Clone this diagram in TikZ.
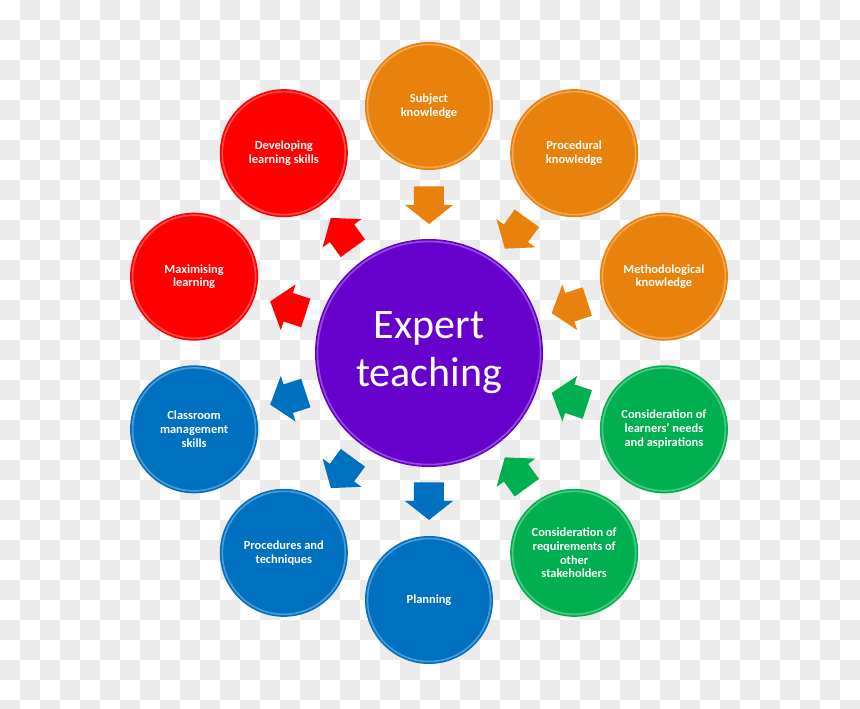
\documentclass[tikz,border=0pt]{standalone}
\usepackage{fontspec}
\setmainfont{Carlito}
\definecolor{cor}{HTML}{E8820C}
\definecolor{cgr}{HTML}{00B050}
\definecolor{cbl}{HTML}{0070C0}
\definecolor{cre}{HTML}{FF0000}
\definecolor{cpu}{HTML}{6600CC}
\definecolor{chk}{HTML}{EBEBEB}
\tikzset{
  outer/.style={circle, minimum size=128pt, inner sep=0pt, text=white,
    font=\bfseries\fontsize{12.4}{13.8}\selectfont, align=center},
  center/.style={circle, minimum size=228pt, inner sep=0pt, fill=cpu, text=white,
    font=\fontsize{42}{48}\selectfont, align=center},
  gloss/.style={draw=white, draw opacity=0.3, line width=1.6pt},
}
\newcommand\blockarrowpath{(-18.5,-15) -- (0,-15) -- (0,-24) -- (19,0) -- (0,24) -- (0,15) -- (-18.5,15) -- cycle}
\begin{document}
\begin{tikzpicture}[x=1pt,y=1pt]
\useasboundingbox (-429,-356) rectangle (431,353);
\fill[white] (-429,-356) rectangle (431,353);
\begin{scope}
\clip (-429,-356) rectangle (431,353);
\foreach \i in {0,...,42}{
  \foreach \j in {0,...,35}{
    \pgfmathtruncatemacro\p{mod(\i+\j,2)}
    \ifnum\p=1 \fill[chk] ({-429+20*\i},{353-20*\j}) rectangle ++(20,-20);\fi
  }
}
\end{scope}

% centre
\node[center] (c) at (0,0) {Expert\\teaching};
\draw[gloss] (0,0) circle (111.5);

% outer circles
\foreach \ang/\col/\nm/\txt in {
  90/cor/o1/{Subject\\knowledge},
  54/cor/o2/{Procedural\\knowledge},
  18/cor/o3/{Methodological\\knowledge},
  -18/cgr/o4/{Consideration of\\learners’ needs\\and aspirations},
  -54/cgr/o5/{Consideration of\\requirements of\\other\\stakeholders},
  -90/cbl/o6/{Planning},
  -126/cbl/o7/{Procedures and\\techniques},
  -162/cbl/o8/{Classroom\\management\\skills},
  162/cre/o9/{Maximising\\learning},
  126/cre/o10/{Developing\\learning skills}}{
  \node[outer, fill=\col] (\nm) at (\ang:247) {\txt};
  \draw[gloss] (\ang:247) circle (61.5);
}

% inward arrows
\foreach \ang/\col in {90/cor,54/cor,18/cor,-18/cgr,-54/cgr}{
  \fill[\col, shift={(\ang:148)}, rotate=\ang+180] \blockarrowpath;
}
% outward arrows
\foreach \ang/\col in {-90/cbl,-126/cbl,-162/cbl,162/cre,126/cre}{
  \fill[\col, shift={(\ang:148)}, rotate=\ang] \blockarrowpath;
}
\end{tikzpicture}
\end{document}
